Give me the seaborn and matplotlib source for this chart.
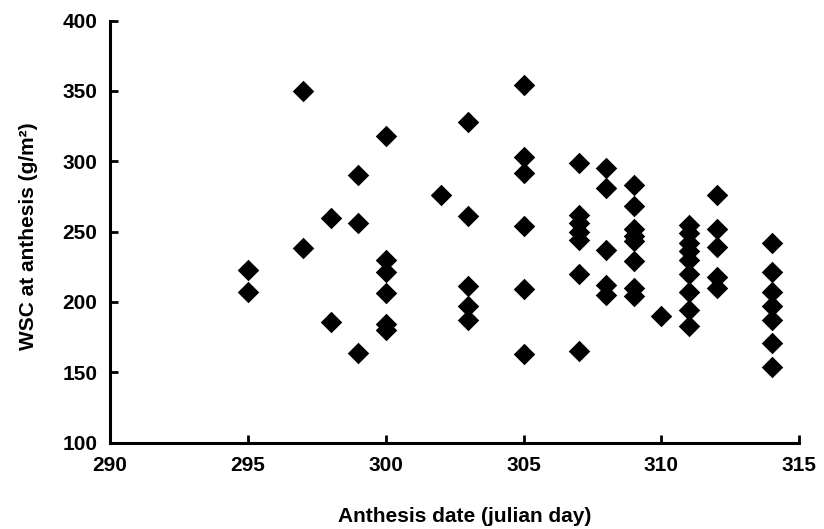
import matplotlib
matplotlib.use("Agg")
import matplotlib.pyplot as plt
import seaborn as sns
import pandas as pd

# Anthesis date (julian day) for each observation
day_295 = [223, 207]
day_297 = [350, 238]
day_298 = [260, 186]
day_299 = [290, 256, 164]
day_300 = [318, 230, 221, 206, 184, 180]
day_302 = [276]
day_303 = [328, 261, 211, 197, 187]
day_305 = [354, 303, 292, 254, 209, 163]
day_307 = [299, 262, 256, 250, 244, 220, 165]
day_308 = [295, 281, 237, 212, 205]
day_309 = [283, 268, 252, 247, 243, 229, 210, 204]
day_310 = [190]
day_311 = [255, 249, 242, 236, 230, 220, 207, 194, 183]
day_312 = [276, 252, 239, 218, 210]
day_314 = [242, 221, 207, 197, 187, 171, 154]

groups = {295: day_295, 297: day_297, 298: day_298, 299: day_299, 300: day_300,
          302: day_302, 303: day_303, 305: day_305, 307: day_307, 308: day_308,
          309: day_309, 310: day_310, 311: day_311, 312: day_312, 314: day_314}

x_ticks = [290, 295, 300, 305, 310, 315]
y_ticks = [100, 150, 200, 250, 300, 350, 400]

rows = [(d, v) for d, vals in groups.items() for v in vals]
df = pd.DataFrame(rows, columns=["day", "wsc"])

sns.set_style("white")
plt.rcParams['font.family'] = ['Liberation Sans', 'DejaVu Sans']
plt.rcParams['text.color'] = 'black'
plt.rcParams['axes.labelcolor'] = 'black'

fig = plt.figure(figsize=(8.24, 5.29), dpi=100)
ax = fig.add_axes([0.1335, 0.1635, 0.8365, 0.7975])

sns.scatterplot(data=df, x="day", y="wsc", marker="D", color="black",
                s=120, linewidth=0, ax=ax, legend=False)

ax.set_xlim(290, 315)
ax.set_ylim(100, 400)
ax.set_xticks(x_ticks)
ax.set_yticks(y_ticks)

for side in ["top", "right"]:
    ax.spines[side].set_visible(False)
for side in ["left", "bottom"]:
    ax.spines[side].set_linewidth(2.2)
    ax.spines[side].set_color("black")

ax.tick_params(axis="both", direction="in", length=6, width=2, colors="black",
               labelsize=15, bottom=True, left=True, labelcolor="black")
ax.tick_params(axis="y", pad=9)
ax.tick_params(axis="x", pad=10)
for lab in ax.get_xticklabels() + ax.get_yticklabels():
    lab.set_fontweight("bold")

ax.set_xlabel("Anthesis date (julian day)", fontsize=15, fontweight="bold")
ax.set_ylabel("WSC at anthesis (g/m²)", fontsize=15, fontweight="bold")
ax.xaxis.set_label_coords(0.515, -0.152)
ax.yaxis.set_label_coords(-0.104, 0.49)

fig.savefig("out.png", dpi=100)
